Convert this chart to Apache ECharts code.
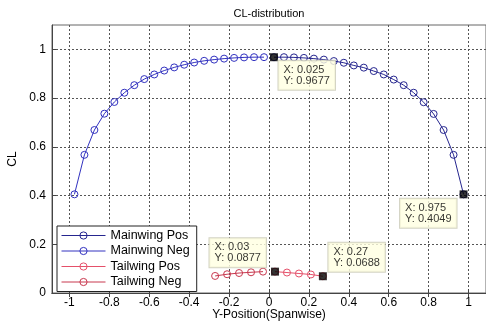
<!DOCTYPE html>
<html>
<head>
<meta charset="utf-8">
<script src="https://cdn.jsdelivr.net/npm/echarts@6/dist/echarts.min.js"></script>
<style>html,body{margin:0;padding:0;background:#fff}#c{width:486px;height:322px}</style>
</head>
<body>
<div id="c"></div>
<script>
// ---- data ----
const mainPosX = [0.025,0.075,0.125,0.175,0.225,0.275,0.325,0.375,0.425,0.475,0.525,0.575,0.625,0.675,0.725,0.775,0.825,0.875,0.925,0.975];
const mainPosY = [0.9677,0.968,0.967,0.965,0.962,0.958,0.952,0.945,0.934,0.925,0.911,0.897,0.876,0.853,0.822,0.783,0.735,0.669,0.567,0.4049];
const mainNegX = [-0.025,-0.075,-0.125,-0.175,-0.225,-0.275,-0.325,-0.375,-0.425,-0.475,-0.525,-0.575,-0.625,-0.675,-0.725,-0.775,-0.825,-0.875,-0.925,-0.975];
const mainNegY = [0.968,0.968,0.967,0.965,0.962,0.958,0.953,0.946,0.937,0.926,0.913,0.897,0.878,0.853,0.822,0.784,0.736,0.669,0.567,0.405];
const tailPosX = [0.03,0.09,0.15,0.21,0.27];
const tailPosY = [0.0877,0.084,0.080,0.076,0.0688];
const tailNegX = [-0.03,-0.09,-0.15,-0.21,-0.27];
const tailNegY = [0.0877,0.085,0.082,0.077,0.070];
const tipX = [0.025,0.975,0.03,0.27];
const tipY = [0.9677,0.4049,0.0877,0.0688];
const xTicks = [-1,-0.8,-0.6,-0.4,-0.2,0,0.2,0.4,0.6,0.8,1];
const yTicks = [0,0.2,0.4,0.6,0.8,1];
const seriesNames = ['Mainwing Pos','Mainwing Neg','Tailwing Pos','Tailwing Neg'];

// ---- chart ----
const zip = (xs, ys) => xs.map((x, i) => [x, ys[i]]);
const FONT = "'Liberation Sans', Arial, sans-serif";
const tipOffsets = [[8.5,7.5],[-59.5,8.5],[-61.5,-29.5],[9.5,-29.5]];
const gridLine = {show:true, lineStyle:{color:'#555', type:[2,2], width:1}};

function lineSeries(name, data, color) {
  return {
    name, type:'line', data, symbol:'circle', symbolSize:7,
    itemStyle:{color:'rgba(255,255,255,0)', borderColor:color, borderWidth:1},
    lineStyle:{color, width:1},
    animation:false
  };
}

const chart = echarts.init(document.getElementById('c'), null, {renderer:'canvas'});
chart.setOption({
  animation:false,
  backgroundColor:'#fff',
  title:{text:'CL-distribution', left:269, top:8, padding:0, textAlign:'center',
    textStyle:{fontFamily:FONT, fontSize:11, fontWeight:'normal', color:'#000'}},
  grid:{left:52, right:0, top:25, bottom:29, show:true, borderColor:'#666', borderWidth:1,
    containLabel:false, outerBoundsMode:'none'},
  legend:{
    data:seriesNames, orient:'vertical', left:57, top:226,
    padding:[3,7,3,4], itemGap:2.5, itemWidth:44, itemHeight:9,
    backgroundColor:'#fff', borderColor:'#222', borderWidth:1, borderRadius:0,
    itemStyle:{borderWidth:1}, lineStyle:{width:1},
    textStyle:{fontFamily:FONT, fontSize:12.5, color:'#000'}
  },
  xAxis:[{
    type:'value', min:-1.0875, max:1.0875,
    name:'Y-Position(Spanwise)', nameLocation:'middle', nameGap:22, nameMoveOverlap:false,
    nameTextStyle:{fontFamily:FONT, fontSize:12, color:'#000', verticalAlign:'middle'},
    axisLine:{show:true, onZero:false, lineStyle:{color:'#444'}},
    axisTick:{show:true, inside:true, length:4, customValues:xTicks, lineStyle:{color:'#444'}},
    axisLabel:{customValues:xTicks, fontFamily:FONT, fontSize:12, color:'#000', margin:4},
    splitLine:gridLine
  },{
    type:'value', min:-1.0875, max:1.0875, position:'top',
    axisLine:{show:true, lineStyle:{color:'#444'}},
    axisTick:{show:true, inside:true, length:4, customValues:xTicks, lineStyle:{color:'#444'}},
    axisLabel:{show:false}, splitLine:{show:false}
  }],
  yAxis:{
    type:'value', min:0, max:1.1,
    name:'CL', nameLocation:'middle', nameGap:33, nameMoveOverlap:false,
    nameTextStyle:{fontFamily:FONT, fontSize:12, color:'#000'},
    axisLine:{show:true, onZero:false, lineStyle:{color:'#444'}},
    axisTick:{show:true, inside:true, length:4, customValues:yTicks, lineStyle:{color:'#444'}},
    axisLabel:{customValues:yTicks, fontFamily:FONT, fontSize:12, color:'#000', margin:6},
    splitLine:gridLine
  },
  series:[
    lineSeries(seriesNames[0], zip(mainPosX, mainPosY), '#26268f'),
    lineSeries(seriesNames[1], zip(mainNegX, mainNegY), '#3232c0'),
    lineSeries(seriesNames[2], zip(tailPosX, tailPosY), '#e5506a'),
    lineSeries(seriesNames[3], zip(tailNegX, tailNegY), '#c8384e'),
    {
      type:'scatter', symbol:'rect', symbolSize:8, z:5,
      itemStyle:{color:'#000'},
      data: tipX.map((x, i) => ({
        value:[x, tipY[i]],
        label:{position:tipOffsets[i]}
      })),
      label:{
        show:true, fontFamily:FONT, fontSize:11, lineHeight:11.5, color:'#000',
        align:'left', verticalAlign:'top',
        backgroundColor:'#ffffe1', borderColor:'#c8c8b4', borderWidth:1,
        padding:[3,5,3,5],
        formatter:p => 'X: ' + p.value[0] + '\nY: ' + p.value[1]
      },
      animation:false
    }
  ]
});
</script>
</body>
</html>
